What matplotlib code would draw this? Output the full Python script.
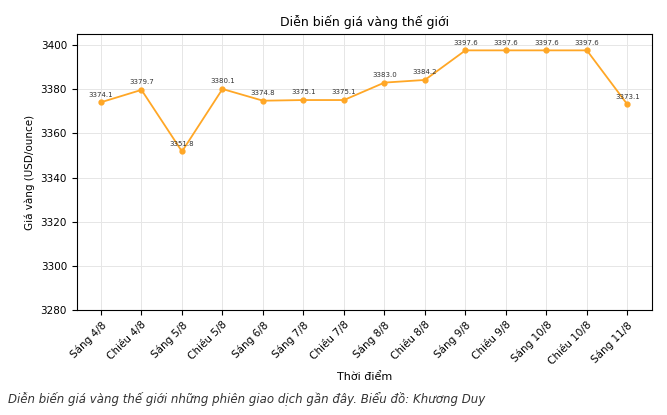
import matplotlib
matplotlib.use("Agg")
import matplotlib.pyplot as plt

labels = ["Sáng 4/8","Chiều 4/8","Sáng 5/8","Chiều 5/8","Sáng 6/8","Sáng 7/8","Chiều 7/8",
          "Sáng 8/8","Chiều 8/8","Sáng 9/8","Chiều 9/8","Sáng 10/8","Chiều 10/8","Sáng 11/8"]
prices = [3374.1,3379.7,3351.8,3380.1,3374.8,3375.1,3375.1,3383.0,3384.2,3397.6,3397.6,3397.6,3397.6,3373.1]

fig = plt.figure(figsize=(6.67,4.15), dpi=100)
ax = fig.add_axes([0.115, 0.253, 0.862, 0.665])
x = range(len(labels))
ax.plot(x, prices, color="#FFA726", marker="o", markersize=3.5, linewidth=1.3)
for i, v in zip(x, prices):
    ax.annotate(f"{v:.1f}", (i, v), xytext=(0, 4), textcoords="offset points",
                ha="center", fontsize=5, color="#333333")
ax.set_ylim(3280, 3405)
ax.set_yticks(range(3280, 3401, 20))
ax.set_xlim(-0.6, 13.6)
ax.set_xticks(list(x))
ax.set_xticklabels(labels, rotation=45, ha="right", rotation_mode="anchor", fontsize=7.5)
ax.tick_params(axis="y", labelsize=7.5)
ax.grid(True, color="#e6e6e6", linewidth=0.7)
ax.set_axisbelow(True)
ax.set_title("Diễn biến giá vàng thế giới", fontsize=9)
ax.set_xlabel("Thời điểm", fontsize=8)
ax.set_ylabel("Giá vàng (USD/ounce)", fontsize=7.5)
fig.text(0.012, 0.03, "Diễn biến giá vàng thế giới những phiên giao dịch gần đây. Biểu đồ: Khương Duy",
         fontsize=8.5, style="italic", color="#333333")
fig.savefig("out.png", dpi=100)
